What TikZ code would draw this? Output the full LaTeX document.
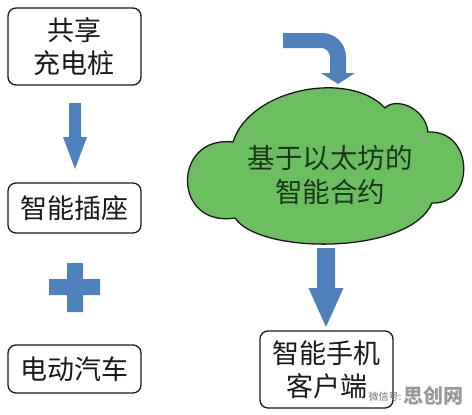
\documentclass[tikz,border=0pt]{standalone}
\usepackage{fontspec}
\setmainfont{Noto Sans CJK SC}
\definecolor{arrowblue}{RGB}{79,129,189}
\definecolor{cloudgreen}{RGB}{108,190,96}
\definecolor{cloudtext}{RGB}{22,58,22}
\begin{document}
\begin{tikzpicture}[x=1pt,y=-1pt,
  box/.style={draw=black!90, line width=1.3pt, rounded corners=8pt, inner sep=0pt,
              font=\fontsize{27}{33}\selectfont, align=center, text=black!90},
  blockarrow/.style={fill=arrowblue, draw=none},
  cloudlbl/.style={font=\fontsize{27.5}{34}\selectfont, align=center, text=cloudtext, inner sep=0pt}]
\useasboundingbox (0,0) rectangle (472,415);
\fill[white] (0,0) rectangle (472,415);

% left column boxes
\node[box, minimum width=133pt, minimum height=77pt] (share) at (74.5,46.5) {共享\\充电桩};
\node[box, minimum width=133pt, minimum height=50pt] (socket) at (74.5,208) {智能插座};
\node[box, minimum width=133pt, minimum height=48pt] (car) at (74.5,369) {电动汽车};

% down arrow (left)
\fill[blockarrow] (69,103) -- (81,103) -- (81,137) -- (87,137) -- (75,169) -- (63,137) -- (69,137) -- cycle;

% plus sign
\fill[blockarrow] (67,263) -- (83,263) -- (83,279) -- (100,279) -- (100,295) -- (83,295)
  -- (83,312) -- (67,312) -- (67,295) -- (49,295) -- (49,279) -- (67,279) -- cycle;

% bent arrow
\fill[blockarrow] (283,33) -- (322,33) .. controls (335.3,33) and (346,43.7) .. (346,57)
  -- (346,73) -- (355,73) -- (338,84) -- (321,73) -- (330,73) -- (330,57)
  .. controls (330,52.6) and (326.4,48) .. (322,48) -- (283,48) -- cycle;

% cloud
\filldraw[fill=cloudgreen, draw=black!90, line width=1.3pt]
  (235,218) .. controls (172,228) and (172,135) .. (233,142)
  .. controls (250,88) and (350,70) .. (385,108)
  .. controls (395,97) and (425,107) .. (428,132)
  .. controls (475,130) and (475,205) .. (432,203)
  .. controls (410,255) and (260,255) .. (235,218) -- cycle;
\node[cloudlbl] (contract) at (330,175) {基于以太坊的\\智能合约};

% down arrow (right)
\fill[blockarrow] (317,248) -- (335,248) -- (335,288) -- (343.5,288) -- (326,327) -- (308.5,288) -- (317,288) -- cycle;

% phone client box
\node[box, minimum width=133pt, minimum height=77pt] (phone) at (326.5,369.5) {智能手机\\客户端};

% watermark
\node[font=\fontsize{10}{12}\selectfont, text=black!55, inner sep=0pt] (wmid) at (385,397) {微信号:};
\node[font=\fontsize{20}{22}\selectfont\bfseries, text=black!40, inner sep=0pt] (wmname) at (433,396) {思创网};
\end{tikzpicture}
\end{document}
